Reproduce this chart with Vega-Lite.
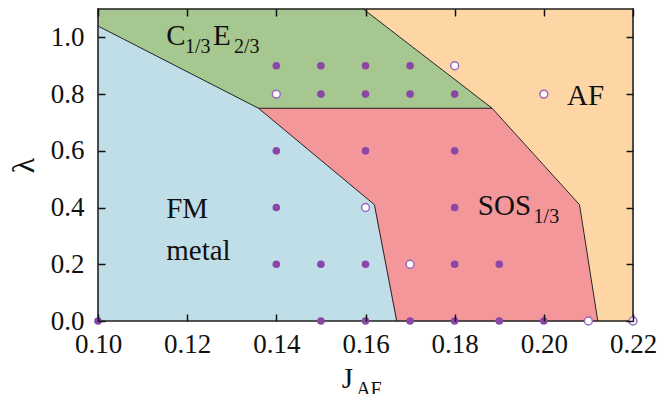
{
  "$schema": "https://vega.github.io/schema/vega-lite/v6.json",
  "width": 535,
  "height": 312,
  "autosize": {"type": "none"},
  "padding": {"left": 98, "top": 9, "right": 28, "bottom": 73},
  "config": {
    "font": "Liberation Serif, Times New Roman, serif",
    "view": {"stroke": null},
    "axis": {
      "domain": false,
      "tickColor": "#111111",
      "tickWidth": 1.5,
      "tickSize": -7,
      "grid": false,
      "labelFlush": false,
      "labelOverlap": false,
      "labelFont": "Liberation Serif, Times New Roman, serif",
      "labelFontSize": 27,
      "labelFontWeight": "normal",
      "labelColor": "#111111",
      "titleFont": "Liberation Serif, Times New Roman, serif",
      "titleFontWeight": "normal",
      "titleColor": "#111111"
    }
  },
  "datasets": {
    "regions": [
      {"region": "FM", "i": 1, "x": 0.10, "y": 0.0},
      {"region": "FM", "i": 2, "x": 0.10, "y": 1.04},
      {"region": "FM", "i": 3, "x": 0.136, "y": 0.75},
      {"region": "FM", "i": 4, "x": 0.162, "y": 0.41},
      {"region": "FM", "i": 5, "x": 0.167, "y": 0.0},
      {"region": "C", "i": 1, "x": 0.10, "y": 1.04},
      {"region": "C", "i": 2, "x": 0.10, "y": 1.1},
      {"region": "C", "i": 3, "x": 0.1595, "y": 1.1},
      {"region": "C", "i": 4, "x": 0.1884, "y": 0.75},
      {"region": "C", "i": 5, "x": 0.136, "y": 0.75},
      {"region": "SOS", "i": 1, "x": 0.136, "y": 0.75},
      {"region": "SOS", "i": 2, "x": 0.1884, "y": 0.75},
      {"region": "SOS", "i": 3, "x": 0.208, "y": 0.41},
      {"region": "SOS", "i": 4, "x": 0.2121, "y": 0.0},
      {"region": "SOS", "i": 5, "x": 0.167, "y": 0.0},
      {"region": "SOS", "i": 6, "x": 0.162, "y": 0.41},
      {"region": "AF", "i": 1, "x": 0.1595, "y": 1.1},
      {"region": "AF", "i": 2, "x": 0.22, "y": 1.1},
      {"region": "AF", "i": 3, "x": 0.22, "y": 0.0},
      {"region": "AF", "i": 4, "x": 0.2121, "y": 0.0},
      {"region": "AF", "i": 5, "x": 0.208, "y": 0.41},
      {"region": "AF", "i": 6, "x": 0.1884, "y": 0.75}
    ],
    "bounds": [
      {"line": "a", "i": 1, "x": 0.10, "y": 1.04},
      {"line": "a", "i": 2, "x": 0.136, "y": 0.75},
      {"line": "a", "i": 3, "x": 0.162, "y": 0.41},
      {"line": "a", "i": 4, "x": 0.167, "y": 0.0},
      {"line": "b", "i": 1, "x": 0.136, "y": 0.75},
      {"line": "b", "i": 2, "x": 0.1884, "y": 0.75},
      {"line": "c", "i": 1, "x": 0.1595, "y": 1.1},
      {"line": "c", "i": 2, "x": 0.1884, "y": 0.75},
      {"line": "c", "i": 3, "x": 0.208, "y": 0.41},
      {"line": "c", "i": 4, "x": 0.2121, "y": 0.0}
    ],
    "frame": [
      {"x": 0.10, "x2": 0.22, "y": 0.0, "y2": 0.0},
      {"x": 0.10, "x2": 0.22, "y": 1.1, "y2": 1.1},
      {"x": 0.10, "x2": 0.10, "y": 0.0, "y2": 1.1},
      {"x": 0.22, "x2": 0.22, "y": 0.0, "y2": 1.1}
    ],
    "points": [
      {"x": 0.14, "y": 0.9, "kind": "filled"},
      {"x": 0.15, "y": 0.9, "kind": "filled"},
      {"x": 0.16, "y": 0.9, "kind": "filled"},
      {"x": 0.17, "y": 0.9, "kind": "filled"},
      {"x": 0.18, "y": 0.9, "kind": "open"},
      {"x": 0.14, "y": 0.8, "kind": "open"},
      {"x": 0.15, "y": 0.8, "kind": "filled"},
      {"x": 0.16, "y": 0.8, "kind": "filled"},
      {"x": 0.17, "y": 0.8, "kind": "filled"},
      {"x": 0.18, "y": 0.8, "kind": "filled"},
      {"x": 0.20, "y": 0.8, "kind": "open"},
      {"x": 0.14, "y": 0.6, "kind": "filled"},
      {"x": 0.16, "y": 0.6, "kind": "filled"},
      {"x": 0.18, "y": 0.6, "kind": "filled"},
      {"x": 0.14, "y": 0.4, "kind": "filled"},
      {"x": 0.16, "y": 0.4, "kind": "open"},
      {"x": 0.18, "y": 0.4, "kind": "filled"},
      {"x": 0.14, "y": 0.2, "kind": "filled"},
      {"x": 0.15, "y": 0.2, "kind": "filled"},
      {"x": 0.16, "y": 0.2, "kind": "filled"},
      {"x": 0.17, "y": 0.2, "kind": "open"},
      {"x": 0.18, "y": 0.2, "kind": "filled"},
      {"x": 0.19, "y": 0.2, "kind": "filled"},
      {"x": 0.10, "y": 0.0, "kind": "filled"},
      {"x": 0.15, "y": 0.0, "kind": "filled"},
      {"x": 0.16, "y": 0.0, "kind": "filled"},
      {"x": 0.17, "y": 0.0, "kind": "filled"},
      {"x": 0.18, "y": 0.0, "kind": "filled"},
      {"x": 0.19, "y": 0.0, "kind": "filled"},
      {"x": 0.20, "y": 0.0, "kind": "filled"},
      {"x": 0.21, "y": 0.0, "kind": "open"},
      {"x": 0.22, "y": 0.0, "kind": "open"}
    ],
    "labels": [
      {"text": "C", "x": 0.1153, "y": 0.973, "role": "main"},
      {"text": "1/3", "x": 0.1195, "y": 0.945, "role": "sub"},
      {"text": "E", "x": 0.1258, "y": 0.973, "role": "main"},
      {"text": "2/3", "x": 0.1305, "y": 0.945, "role": "sub"},
      {"text": "FM", "x": 0.1153, "y": 0.363, "role": "main"},
      {"text": "metal", "x": 0.1153, "y": 0.215, "role": "main"},
      {"text": "SOS", "x": 0.1852, "y": 0.374, "role": "main"},
      {"text": "1/3", "x": 0.1977, "y": 0.346, "role": "sub"},
      {"text": "AF", "x": 0.2052, "y": 0.762, "role": "main"},
      {"text": "J", "x": 0.1547, "y": -0.236, "role": "main"},
      {"text": "AF", "x": 0.1579, "y": -0.264, "role": "sub"}
    ]
  },
  "resolve": {"axis": {"x": "independent", "y": "independent"}},
  "layer": [
    {
      "data": {"name": "regions"},
      "transform": [{"filter": "datum.region === 'FM'"}],
      "mark": {"type": "line", "fill": "#c0dee8", "stroke": "#c0dee8", "strokeWidth": 0.5},
      "encoding": {
        "x": {"field": "x", "type": "quantitative", "scale": {"domain": [0.1, 0.22], "nice": false, "zero": false},
          "axis": {"orient": "bottom", "zindex": 3, "values": [0.1, 0.12, 0.14, 0.16, 0.18, 0.2, 0.22], "format": ".2f", "title": null, "labelPadding": 17}},
        "y": {"field": "y", "type": "quantitative", "scale": {"domain": [0, 1.1], "nice": false, "zero": false},
          "axis": {"orient": "left", "zindex": 3, "values": [0, 0.2, 0.4, 0.6, 0.8, 1.0], "format": ".1f", "title": "λ", "titleFontSize": 32, "titlePadding": 10, "labelPadding": 21}},
        "order": {"field": "i", "type": "quantitative"}
      }
    },
    {
      "data": {"name": "regions"},
      "transform": [{"filter": "datum.region === 'C'"}],
      "mark": {"type": "line", "fill": "#a6c890", "stroke": "#a6c890", "strokeWidth": 0.5},
      "encoding": {
        "x": {"field": "x", "type": "quantitative", "scale": {"domain": [0.1, 0.22], "nice": false, "zero": false}, "axis": null},
        "y": {"field": "y", "type": "quantitative", "scale": {"domain": [0, 1.1], "nice": false, "zero": false}, "axis": null},
        "order": {"field": "i", "type": "quantitative"}
      }
    },
    {
      "data": {"name": "regions"},
      "transform": [{"filter": "datum.region === 'SOS'"}],
      "mark": {"type": "line", "fill": "#f4979a", "stroke": "#f4979a", "strokeWidth": 0.5},
      "encoding": {
        "x": {"field": "x", "type": "quantitative", "scale": {"domain": [0.1, 0.22], "nice": false, "zero": false}, "axis": null},
        "y": {"field": "y", "type": "quantitative", "scale": {"domain": [0, 1.1], "nice": false, "zero": false}, "axis": null},
        "order": {"field": "i", "type": "quantitative"}
      }
    },
    {
      "data": {"name": "regions"},
      "transform": [{"filter": "datum.region === 'AF'"}],
      "mark": {"type": "line", "fill": "#fed6a5", "stroke": "#fed6a5", "strokeWidth": 0.5},
      "encoding": {
        "x": {"field": "x", "type": "quantitative", "scale": {"domain": [0.1, 0.22], "nice": false, "zero": false}, "axis": null},
        "y": {"field": "y", "type": "quantitative", "scale": {"domain": [0, 1.1], "nice": false, "zero": false}, "axis": null},
        "order": {"field": "i", "type": "quantitative"}
      }
    },
    {
      "data": {"name": "bounds"},
      "mark": {"type": "line", "color": "#222222", "strokeWidth": 1},
      "encoding": {
        "x": {"field": "x", "type": "quantitative", "scale": {"domain": [0.1, 0.22], "nice": false, "zero": false},
          "axis": {"orient": "top", "zindex": 3, "values": [0.1, 0.12, 0.14, 0.16, 0.18, 0.2, 0.22], "labels": false, "title": null}},
        "y": {"field": "y", "type": "quantitative", "scale": {"domain": [0, 1.1], "nice": false, "zero": false},
          "axis": {"orient": "right", "zindex": 3, "values": [0, 0.2, 0.4, 0.6, 0.8, 1.0], "labels": false, "title": null}},
        "detail": {"field": "line", "type": "nominal"},
        "order": {"field": "i", "type": "quantitative"}
      }
    },
    {
      "data": {"name": "frame"},
      "mark": {"type": "rule", "color": "#222222", "strokeWidth": 1.6, "strokeCap": "square"},
      "encoding": {
        "x": {"field": "x", "type": "quantitative", "scale": {"domain": [0.1, 0.22], "nice": false, "zero": false}, "axis": null},
        "x2": {"field": "x2"},
        "y": {"field": "y", "type": "quantitative", "scale": {"domain": [0, 1.1], "nice": false, "zero": false}, "axis": null},
        "y2": {"field": "y2"}
      }
    },
    {
      "data": {"name": "points"},
      "transform": [{"filter": "datum.kind === 'filled'"}],
      "mark": {"type": "point", "shape": "circle", "filled": true, "color": "#8a47a8", "opacity": 1, "size": 58},
      "encoding": {
        "x": {"field": "x", "type": "quantitative", "scale": {"domain": [0.1, 0.22], "nice": false, "zero": false}, "axis": null},
        "y": {"field": "y", "type": "quantitative", "scale": {"domain": [0, 1.1], "nice": false, "zero": false}, "axis": null}
      }
    },
    {
      "data": {"name": "points"},
      "transform": [{"filter": "datum.kind === 'open'"}],
      "mark": {"type": "point", "shape": "circle", "filled": false, "fill": "#ffffff", "fillOpacity": 1, "stroke": "#9a66c2", "strokeWidth": 1.5, "opacity": 1, "size": 62},
      "encoding": {
        "x": {"field": "x", "type": "quantitative", "scale": {"domain": [0.1, 0.22], "nice": false, "zero": false}, "axis": null},
        "y": {"field": "y", "type": "quantitative", "scale": {"domain": [0, 1.1], "nice": false, "zero": false}, "axis": null}
      }
    },
    {
      "data": {"name": "labels"},
      "transform": [{"filter": "datum.role === 'main'"}],
      "mark": {"type": "text", "align": "left", "baseline": "alphabetic", "fontSize": 29, "font": "Liberation Serif, Times New Roman, serif", "color": "#111111"},
      "encoding": {
        "x": {"field": "x", "type": "quantitative", "scale": {"domain": [0.1, 0.22], "nice": false, "zero": false}, "axis": null},
        "y": {"field": "y", "type": "quantitative", "scale": {"domain": [0, 1.1], "nice": false, "zero": false}, "axis": null},
        "text": {"field": "text", "type": "nominal"}
      }
    },
    {
      "data": {"name": "labels"},
      "transform": [{"filter": "datum.role === 'sub'"}],
      "mark": {"type": "text", "align": "left", "baseline": "alphabetic", "fontSize": 20, "font": "Liberation Serif, Times New Roman, serif", "color": "#111111"},
      "encoding": {
        "x": {"field": "x", "type": "quantitative", "scale": {"domain": [0.1, 0.22], "nice": false, "zero": false}, "axis": null},
        "y": {"field": "y", "type": "quantitative", "scale": {"domain": [0, 1.1], "nice": false, "zero": false}, "axis": null},
        "text": {"field": "text", "type": "nominal"}
      }
    }
  ]
}
